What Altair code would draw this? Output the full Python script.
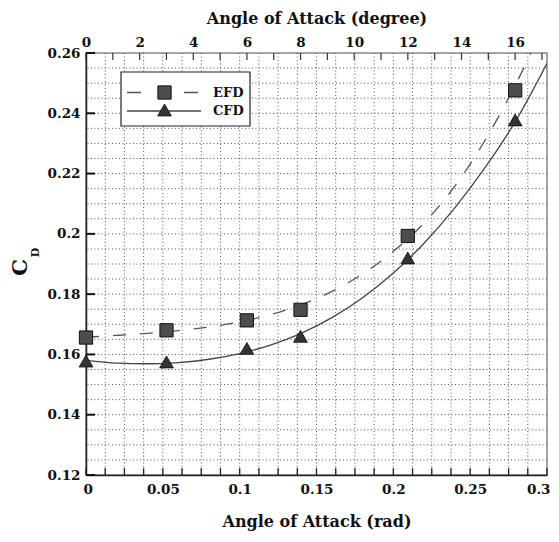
import altair as alt
import pandas as pd

# ---------------- data ----------------
aoa_deg = [0, 3, 6, 8, 12, 16]
aoa_rad = [0.0, 0.0524, 0.1047, 0.1396, 0.2094, 0.2793]
efd_cd = [0.1656, 0.1680, 0.1713, 0.1748, 0.1993, 0.2476]
cfd_cd = [0.1578, 0.1575, 0.1620, 0.1660, 0.1920, 0.2378]

# fitted curves
efd_fit_x = [0.0, 0.02, 0.04, 0.06, 0.08, 0.10, 0.12, 0.14, 0.16, 0.18, 0.20, 0.22, 0.24, 0.26, 0.28, 0.30]
efd_fit_y = [0.1657, 0.1663, 0.1670, 0.1679, 0.1691, 0.1708, 0.1732, 0.1765, 0.1809, 0.1867, 0.1942, 0.2036, 0.2158, 0.2313, 0.2500, 0.2715]
cfd_fit_x = [0.0, 0.02, 0.04, 0.06, 0.08, 0.10, 0.12, 0.14, 0.16, 0.18, 0.20, 0.22, 0.24, 0.26, 0.28, 0.30]
cfd_fit_y = [0.1580, 0.1571, 0.1569, 0.1573, 0.1584, 0.1603, 0.1631, 0.1670, 0.1722, 0.1788, 0.1870, 0.1969, 0.2086, 0.2222, 0.2378, 0.2566]

x_labels = [0, 0.05, 0.1, 0.15, 0.2, 0.25, 0.3]
x_minor = [round(i * 0.0125, 4) for i in range(25)]
y_labels = [0.12, 0.14, 0.16, 0.18, 0.2, 0.22, 0.24, 0.26]
y_grid = [round(0.12 + i * 0.005, 3) for i in range(29)]
deg_labels = [0, 2, 4, 6, 8, 10, 12, 14, 16]
deg_ticks = list(range(0, 18))
series_names = ["EFD", "CFD"]

W, H = 461, 422
FONT = "DejaVu Serif"

xs = alt.Scale(domain=[0, 0.3], nice=False, zero=False)
ys = alt.Scale(domain=[0.12, 0.26], nice=False, zero=False)
one = pd.DataFrame({"a": [0]})

x_axis = alt.Axis(orient="bottom", values=x_labels, format="~g", title="Angle of Attack (rad)",
                  ticks=False, grid=False, labelPadding=7, titlePadding=18,
                  labelFlush=True, labelFlushOffset=3)
y_axis = alt.Axis(orient="left", values=y_labels, format="~g", title=None,
                  ticks=False, grid=False, labelPadding=6, labelFlush=False)


def X(f):
    return alt.X(f, scale=xs, axis=x_axis, title="Angle of Attack (rad)")


def Y(f):
    return alt.Y(f, scale=ys, axis=y_axis, title=None)


efd_pts = pd.DataFrame({"x": aoa_rad, "y": efd_cd})
cfd_pts = pd.DataFrame({"x": aoa_rad, "y": cfd_cd})
efd_fit = pd.DataFrame({"x": efd_fit_x, "y": efd_fit_y})
cfd_fit = pd.DataFrame({"x": cfd_fit_x, "y": cfd_fit_y})

grid_style = dict(color="#555", strokeWidth=1, strokeDash=[1, 2.5])

vgrid = alt.Chart(pd.DataFrame({"x": x_minor[1:-1]})).mark_rule(**grid_style).encode(x=X("x:Q"))
hgrid = alt.Chart(pd.DataFrame({"y": y_grid[1:-1]})).mark_rule(**grid_style).encode(y=Y("y:Q"))

bticks = alt.Chart(pd.DataFrame({"x": x_minor})).mark_rule(color="#222", strokeWidth=1.3).encode(
    x=X("x:Q"), y=alt.value(H), y2=alt.value(H - 7))
lticks = alt.Chart(pd.DataFrame({"y": y_labels})).mark_rule(color="#111", strokeWidth=2).encode(
    y=Y("y:Q"), x=alt.value(0), x2=alt.value(9))

efd_line = alt.Chart(efd_fit).mark_line(interpolate="monotone", color="#555", strokeWidth=1.3,
                                        strokeDash=[13, 14], clip=True).encode(x=X("x:Q"), y=Y("y:Q"))
cfd_line = alt.Chart(cfd_fit).mark_line(interpolate="monotone", color="#444", strokeWidth=1.3,
                                        clip=True).encode(x=X("x:Q"), y=Y("y:Q"))

efd_mark = alt.Chart(efd_pts).mark_point(shape="square", filled=True, size=175, fill="#4d4d4d",
                                         stroke="#111", strokeWidth=1, opacity=1).encode(
    x=X("x:Q"), y=Y("y:Q"))
cfd_mark = alt.Chart(cfd_pts).mark_point(shape="triangle-up", filled=True, size=190, fill="#333",
                                         stroke="#111", strokeWidth=0.8, opacity=1).encode(
    x=X("x:Q"), y=Y("y:Q"))

# legend (drawn by hand)
leg_box = alt.Chart(one).mark_rect(fill="white", stroke="#222", strokeWidth=1.2).encode(
    x=alt.value(35), x2=alt.value(164), y=alt.value(19), y2=alt.value(73))
leg_efd_line = alt.Chart(one).mark_rule(color="#555", strokeWidth=1.3, strokeDash=[14, 43]).encode(
    x=alt.value(41), x2=alt.value(113), y=alt.value(39.5))
leg_efd_pt = alt.Chart(one).mark_point(shape="square", filled=True, size=175, fill="#4d4d4d",
                                       stroke="#111", strokeWidth=1, opacity=1).encode(
    x=alt.value(78.5), y=alt.value(39.5))
leg_cfd_line = alt.Chart(one).mark_rule(color="#444", strokeWidth=1.3).encode(
    x=alt.value(41), x2=alt.value(115), y=alt.value(58))
leg_cfd_pt = alt.Chart(one).mark_point(shape="triangle-up", filled=True, size=190, fill="#333",
                                       stroke="#111", strokeWidth=0.8, opacity=1).encode(
    x=alt.value(78.5), y=alt.value(57))
txt = dict(font=FONT, fontWeight="bold", fontSize=13, color="#111", align="left", baseline="middle")
leg_efd_txt = alt.Chart(one).mark_text(**txt).encode(
    x=alt.value(127), y=alt.value(39.5), text=alt.value(series_names[0]))
leg_cfd_txt = alt.Chart(one).mark_text(**txt).encode(
    x=alt.value(127), y=alt.value(58), text=alt.value(series_names[1]))

# y title C_D
ytitle_c = alt.Chart(one).mark_text(font=FONT, fontWeight="bold", fontSize=21, color="#111",
                                    angle=270, align="center", baseline="middle").encode(
    x=alt.value(-65), y=alt.value(214.5), text=alt.value("C"))
ytitle_d = alt.Chart(one).mark_text(font=FONT, fontWeight="bold", fontSize=11, color="#111",
                                    angle=270, align="center", baseline="middle").encode(
    x=alt.value(-50.5), y=alt.value(199.5), text=alt.value("D"))

inner = alt.layer(vgrid, hgrid, bticks, lticks, efd_line, cfd_line, efd_mark, cfd_mark,
                  leg_box, leg_efd_line, leg_efd_pt, leg_cfd_line, leg_cfd_pt,
                  leg_efd_txt, leg_cfd_txt, ytitle_c, ytitle_d)

top = alt.Chart(pd.DataFrame({"d": deg_ticks})).mark_rule(color="#333", strokeWidth=1.2).encode(
    x=alt.X("d:Q", scale=alt.Scale(domain=[0, 17.1887], nice=False, zero=False),
            axis=alt.Axis(orient="top", values=deg_labels, title="Angle of Attack (degree)",
                          ticks=False, domain=False, grid=False, labelPadding=4, titlePadding=9,
                          labelFlush=False)),
    y=alt.value(0), y2=alt.value(7))

chart = alt.layer(inner, top).resolve_scale(x="independent").properties(
    width=W, height=H, autosize="none",
    padding={"left": 78, "top": 45, "right": 4, "bottom": 58},
).configure_view(stroke="#888", strokeWidth=1.5).configure_axis(
    labelFont=FONT, labelFontWeight="bold", labelFontSize=13.5, labelColor="#111",
    titleFont=FONT, titleFontWeight="bold", titleFontSize=16, titleColor="#111",
    domainColor="#222", domainWidth=1.5,
)

chart.save("out.html", embed_options={"renderer": "svg", "actions": False})
